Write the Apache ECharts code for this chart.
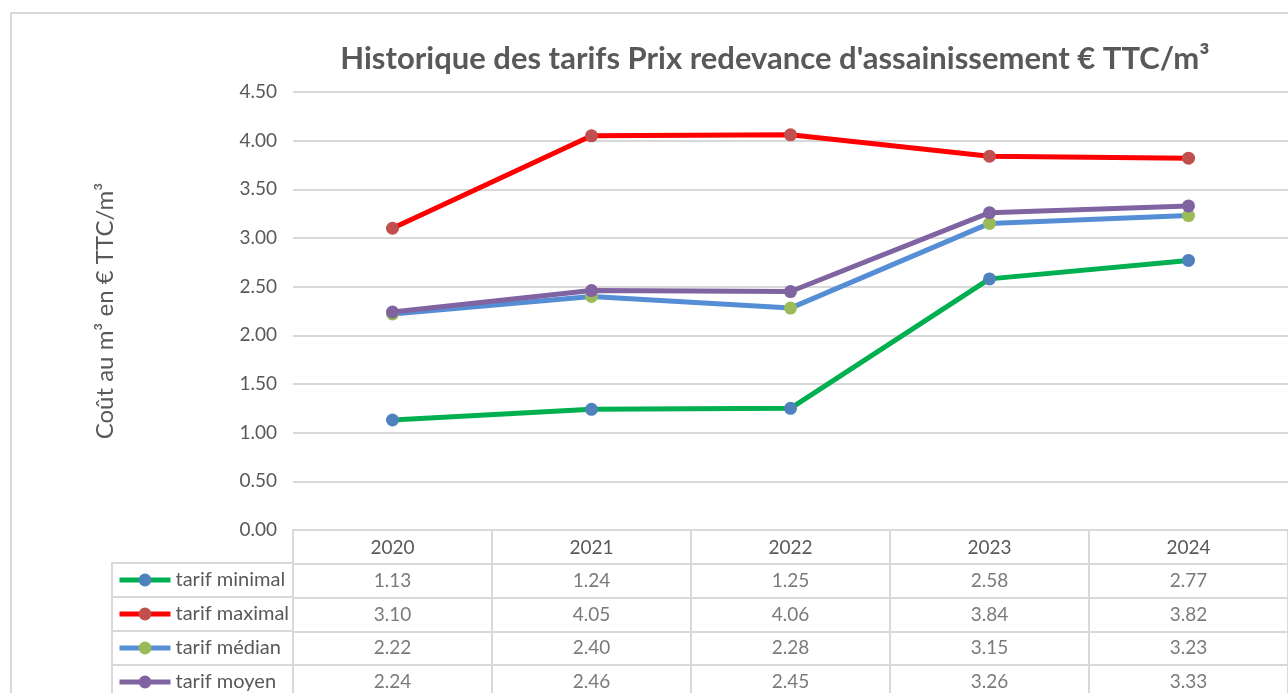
<!DOCTYPE html>
<html>
<head>
<meta charset="utf-8">
<script src="https://cdn.jsdelivr.net/npm/echarts@6/dist/echarts.min.js"></script>
<style>
  html, body { margin: 0; padding: 0; background: #fff; }
  #chart { width: 1288px; height: 693px; }
</style>
</head>
<body>
<div id="chart"></div>
<script>
const years = ['2020', '2021', '2022', '2023', '2024'];
const names = ['tarif minimal', 'tarif maximal', 'tarif médian', 'tarif moyen'];
const tarifMinimal = [1.13, 1.24, 1.25, 2.58, 2.77];
const tarifMaximal = [3.10, 4.05, 4.06, 3.84, 3.82];
const tarifMedian = [2.22, 2.40, 2.28, 3.15, 3.23];
const tarifMoyen = [2.24, 2.46, 2.45, 3.26, 3.33];
const values = [tarifMinimal, tarifMaximal, tarifMedian, tarifMoyen];

const lineColors = ['#00B050', '#FF0000', '#558ED5', '#8064A2'];
const markerColors = ['#4F81BD', '#C0504D', '#9BBB59', '#8064A2'];

const font = 'Lato, "Open Sans", sans-serif';
const grey = '#595959';
const border = '#d9d9d9';

// cells of the data table: [column, row, value]
const tableCells = [];
values.forEach((arr, i) => {
  arr.forEach((v, j) => tableCells.push([j, i + 1, v]));
});

const lineSeries = names.map((n, i) => ({
  name: n,
  type: 'line',
  xAxisIndex: 0,
  yAxisIndex: 0,
  data: values[i],
  symbol: 'circle',
  symbolSize: 13,
  showAllSymbol: true,
  lineStyle: { color: lineColors[i], width: 5 },
  itemStyle: { color: markerColors[i] },
  emphasis: { disabled: true },
  z: 3 + i
}));

const option = {
  animation: false,
  textStyle: { fontFamily: font },
  title: {
    text: "Historique des tarifs Prix redevance d'assainissement € TTC/m³",
    left: 770,
    textAlign: 'center',
    top: 38,
    textStyle: { fontFamily: font, fontSize: 31, fontWeight: 'bold', color: grey }
  },
  legend: {
    orient: 'vertical',
    left: 117,
    top: 570,
    height: 200,
    padding: 0,
    itemWidth: 51,
    itemHeight: 16,
    itemGap: 14,
    lineStyle: { width: 5 },
    textStyle: { fontFamily: font, fontSize: 20, color: grey, lineHeight: 20 },
    selectedMode: false,
    data: names
  },
  graphic: [{
    type: 'rect',
    shape: { x: 11, y: 13, width: 1300, height: 700 },
    style: { fill: 'none', stroke: border, lineWidth: 2 },
    silent: true
  }],
  grid: [
    { left: 293, right: 0, top: 92, height: 438, outerBoundsMode: 'none' },
    { left: 293, right: 0, top: 530, bottom: -6, show: true, borderColor: border, borderWidth: 2, outerBoundsMode: 'none' },
    { left: 112, width: 181, top: 563, bottom: -6, show: true, borderColor: border, borderWidth: 2, outerBoundsMode: 'none' }
  ],
  xAxis: [
    {
      gridIndex: 0,
      type: 'category',
      data: years,
      boundaryGap: true,
      axisLine: { show: false },
      axisTick: { show: false },
      axisLabel: { margin: 8, fontSize: 19, color: grey, fontFamily: font }
    },
    {
      gridIndex: 1,
      type: 'category',
      data: years,
      boundaryGap: true,
      axisLine: { show: false },
      axisTick: { show: false },
      axisLabel: { show: false },
      splitLine: { show: true, lineStyle: { color: border, width: 2 } }
    },
    {
      gridIndex: 2,
      type: 'category',
      data: [''],
      axisLine: { show: false },
      axisTick: { show: false },
      axisLabel: { show: false }
    }
  ],
  yAxis: [
    {
      gridIndex: 0,
      type: 'value',
      min: 0,
      max: 4.5,
      interval: 0.5,
      axisLine: { show: false },
      axisTick: { show: false },
      axisLabel: { margin: 16, fontSize: 19, color: grey, fontFamily: font, formatter: v => v.toFixed(2) },
      splitLine: { lineStyle: { color: border, width: 2 } },
      name: 'Coût au m³ en € TTC/m³',
      nameLocation: 'middle',
      nameGap: 176,
      nameTextStyle: { fontSize: 24, color: grey, fontFamily: font }
    },
    {
      gridIndex: 1,
      type: 'category',
      inverse: true,
      data: [''].concat(names),
      axisLine: { show: false },
      axisTick: { show: false },
      axisLabel: { show: false },
      splitLine: { show: true, lineStyle: { color: border, width: 2 } }
    },
    {
      gridIndex: 2,
      type: 'category',
      inverse: true,
      data: names,
      axisLine: { show: false },
      axisTick: { show: false },
      axisLabel: { show: false },
      splitLine: { show: true, lineStyle: { color: border, width: 2 } }
    }
  ],
  series: lineSeries.concat([{
    type: 'scatter',
    xAxisIndex: 1,
    yAxisIndex: 1,
    data: tableCells,
    symbolSize: 0,
    silent: true,
    label: {
      show: true,
      position: 'inside',
      formatter: p => p.value[2].toFixed(2),
      fontSize: 19,
      color: grey,
      fontFamily: font
    }
  }])
};

const chart = echarts.init(document.getElementById('chart'));
chart.setOption(option);
window.addEventListener('resize', () => chart.resize());
</script>
</body>
</html>
